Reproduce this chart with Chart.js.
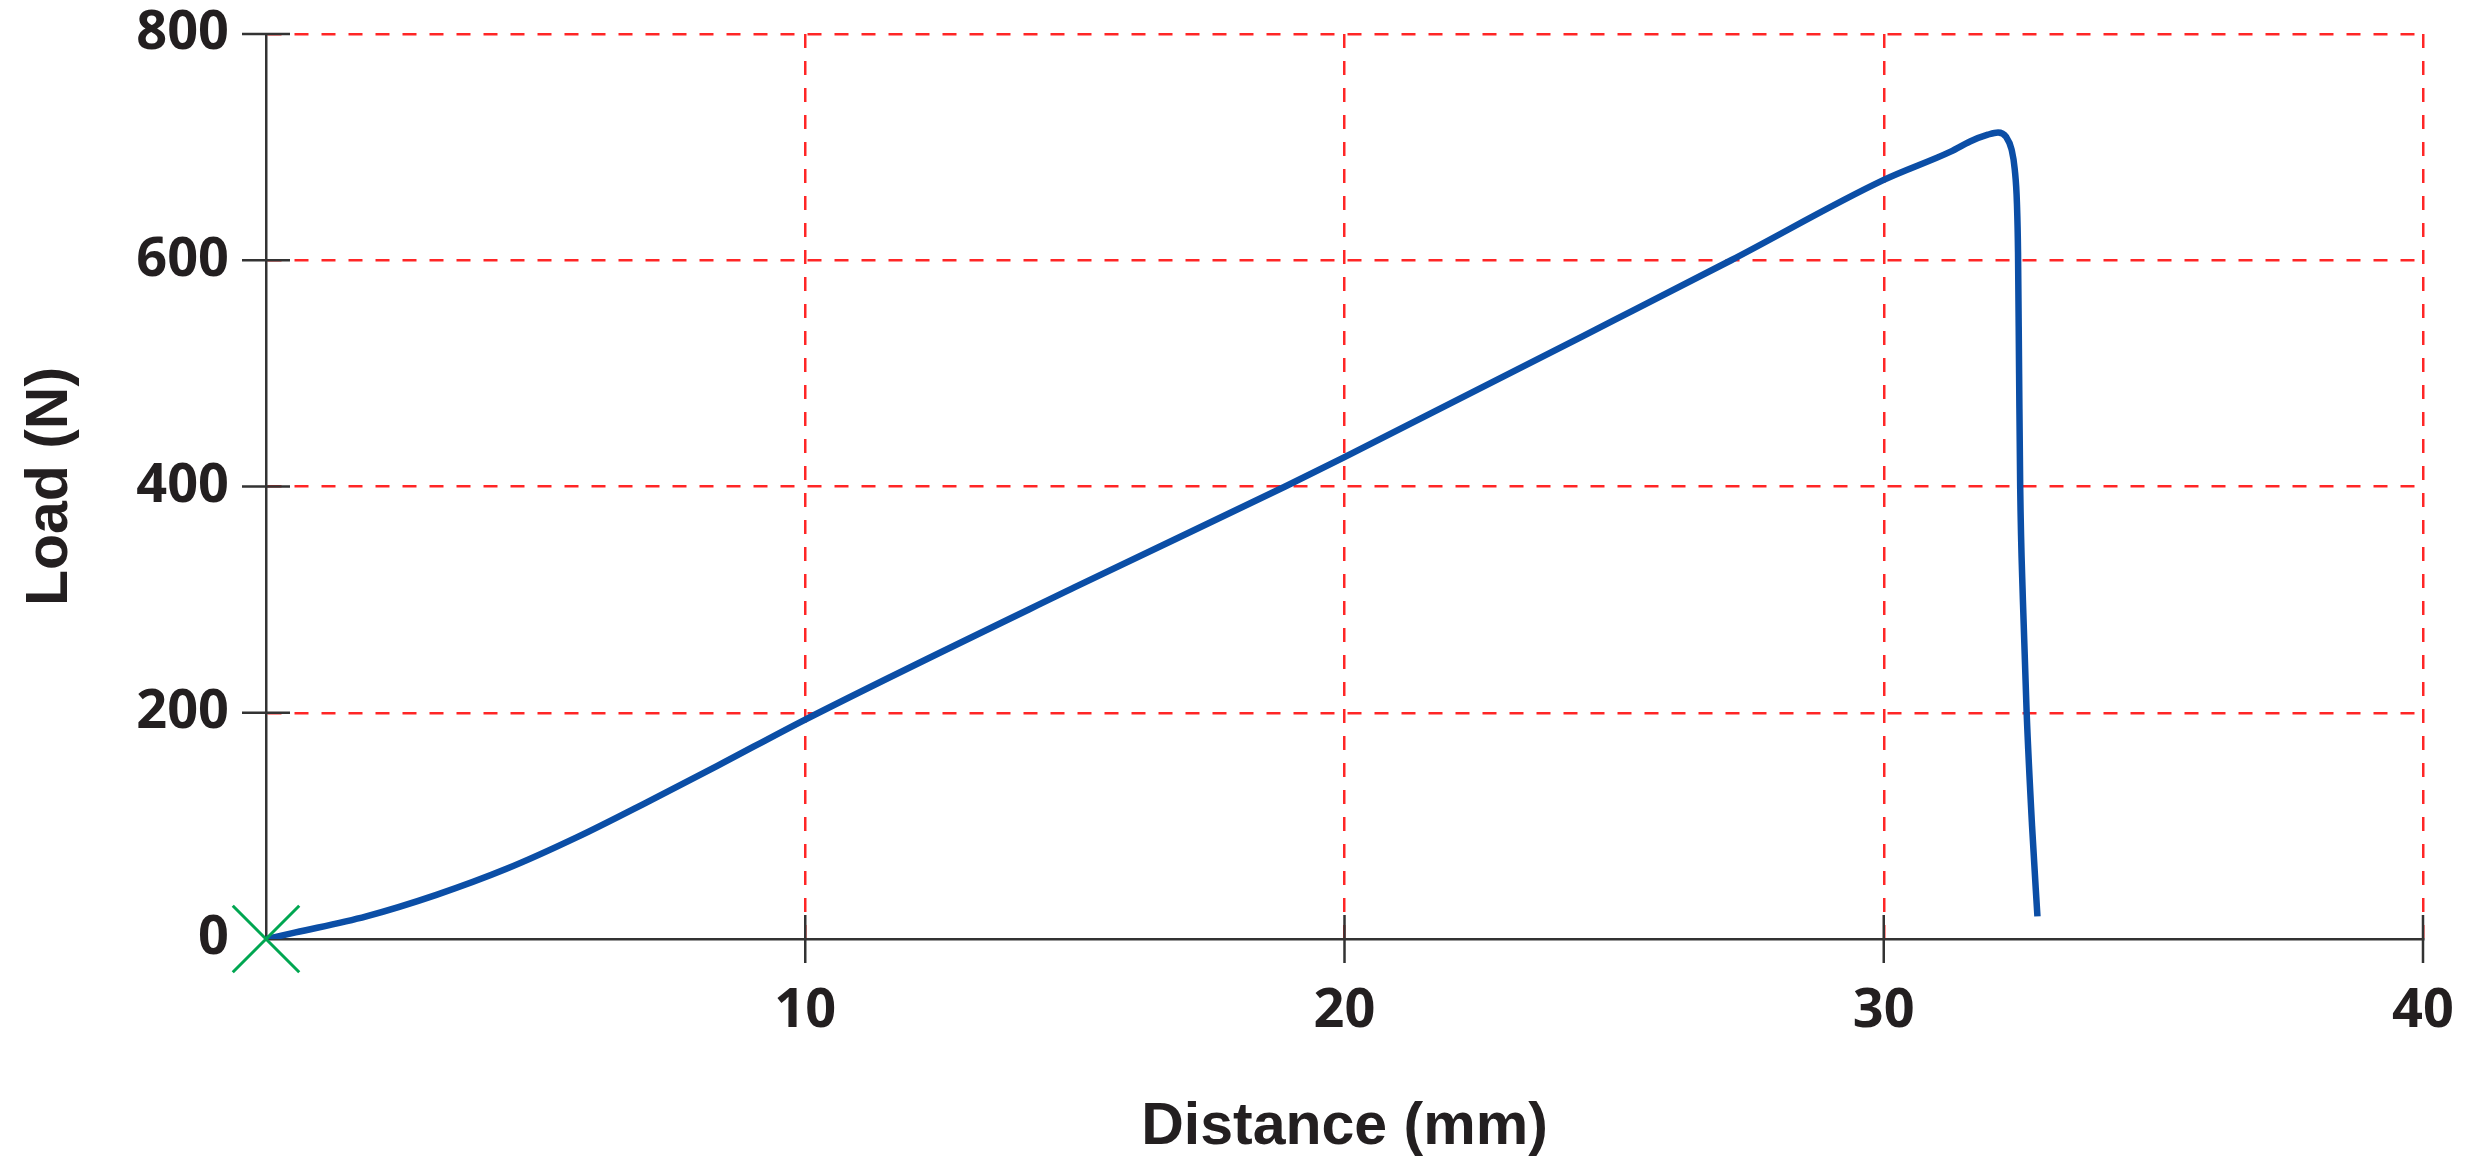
<!DOCTYPE html>
<html lang="en">
<head>
<meta charset="UTF-8" />
<title>Load vs Distance</title>
<style>
  html, body { margin: 0; padding: 0; background: #fff; }
  #wrap { width: 2465px; height: 1171px; position: relative; }
</style>
</head>
<body>
<div id="wrap"><canvas id="loadChart"></canvas></div>

<script src="https://cdn.jsdelivr.net/npm/chart.js"></script>
<script>
  // values (distance in mm, load in N)
  const distance = [0, 0.55, 1.86, 3.16, 4.46, 5.77, 7.07, 8.37, 10, 15, 18.9, 20, 25, 27.17, 30, 31.24, 31.6, 31.93, 32.12, 32.27, 32.37, 32.43, 32.47, 32.49, 32.51, 32.53, 32.58, 32.65, 32.75, 32.85];
  const load     = [0, 5.8, 20, 39, 62, 90, 121, 153, 194, 311, 400, 426, 547, 600, 671, 696, 705, 711, 713, 709, 698, 680, 650, 607, 500, 400, 300, 200, 100, 20];
  const origin = [{ x: 0, y: 0 }];
  const xTicks = [0, 10, 20, 30, 40];
  const yTicks = [0, 200, 400, 600, 800];

  const curve = distance.map((d, i) => ({ x: d, y: load[i] }));

  const gridRed = '#ff2626';
  const axisInk = '#333333';

  // tick marks crossing each axis, drawn in black over the red grid
  const crossTicks = {
    id: 'crossTicks',
    afterDatasetsDraw(chart) {
      const { ctx, scales: { x, y } } = chart;
      const len = 24;
      ctx.save();
      ctx.strokeStyle = axisInk;
      ctx.lineWidth = 2.5;
      ctx.beginPath();
      yTicks.forEach(v => {
        if (v === 0) return;
        const py = y.getPixelForValue(v);
        ctx.moveTo(x.left - len, py);
        ctx.lineTo(x.left + len, py);
      });
      xTicks.forEach(v => {
        if (v === 0) return;
        const px = x.getPixelForValue(v);
        ctx.moveTo(px, y.bottom - len);
        ctx.lineTo(px, y.bottom + len);
      });
      ctx.stroke();
      ctx.restore();
    }
  };

  const tickFont = { family: '"Open Sans", sans-serif', size: 54, weight: 'bold' };
  const titleFont = { family: '"Liberation Sans", Arial, sans-serif', size: 59, weight: 'bold' };

  new Chart(document.getElementById('loadChart'), {
    type: 'scatter',
    data: {
      datasets: [
        {
          label: 'origin',
          data: origin,
          pointStyle: 'crossRot',
          pointRadius: 47,
          pointBorderWidth: 3,
          borderColor: '#00a651',
          backgroundColor: '#00a651',
          clip: false,
          order: 0
        },
        {
          label: 'Load',
          data: curve,
          showLine: true,
          borderColor: '#0b4ea6',
          borderWidth: 6.5,
          pointRadius: 0,
          cubicInterpolationMode: 'monotone',
          fill: false,
          order: 1
        }
      ]
    },
    options: {
      responsive: true,
      maintainAspectRatio: false,
      animation: false,
      events: [],
      layout: { autoPadding: false, padding: { top: 34, right: 42, left: 0, bottom: 0 } },
      plugins: { legend: { display: false }, tooltip: { enabled: false } },
      scales: {
        x: {
          type: 'linear',
          min: 0, max: 40,
          afterBuildTicks: s => { s.ticks = xTicks.map(v => ({ value: v })); },
          afterFit: s => { s.height = 232; s.paddingLeft = 0; s.paddingRight = 0; },
          border: { color: axisInk, width: 2.5, dash: [14, 13] },
          grid: {
            color: c => c.tick && c.tick.value === 0 ? 'rgba(0,0,0,0)' : gridRed,
            lineWidth: 2.5,
            drawTicks: false
          },
          ticks: {
            color: '#231f20',
            font: tickFont,
            padding: 40,
            maxRotation: 0,
            callback: v => v === 0 ? '' : v
          },
          title: {
            display: true,
            text: 'Distance (mm)',
            color: '#231f20',
            font: titleFont,
            padding: { top: 44, bottom: 8 }
          }
        },
        y: {
          type: 'linear',
          min: 0, max: 800,
          afterBuildTicks: s => { s.ticks = yTicks.map(v => ({ value: v })); },
          afterFit: s => { s.width = 266; s.paddingTop = 0; s.paddingBottom = 0; },
          border: { color: axisInk, width: 2.5, dash: [14, 13] },
          grid: {
            color: c => c.tick && c.tick.value === 0 ? 'rgba(0,0,0,0)' : gridRed,
            lineWidth: 2.5,
            drawTicks: false
          },
          ticks: {
            color: '#231f20',
            font: tickFont,
            padding: 37
          },
          title: {
            display: true,
            text: 'Load (N)',
            color: '#231f20',
            font: titleFont,
            padding: { top: 15, bottom: 10 }
          }
        }
      }
    },
    plugins: [crossTicks]
  });
</script>
</body>
</html>
